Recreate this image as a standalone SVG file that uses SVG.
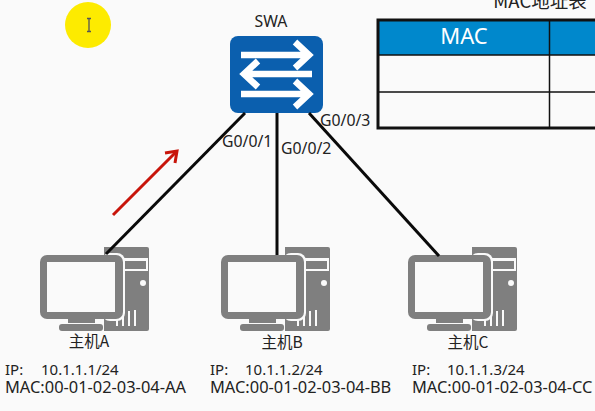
<svg xmlns="http://www.w3.org/2000/svg" width="595" height="411" viewBox="0 0 595 411">
<style>
text{font-family:"Noto Sans","Noto Sans CJK SC",sans-serif;font-size:15px;fill:#222}
.c{font-family:"Noto Sans CJK SC","Noto Sans",sans-serif;text-anchor:middle;font-size:15.5px}
.m{font-size:16.4px}
.p{font-size:15.8px}
.g{fill:#7f7f7f}
.w{fill:#fafafa}
.link{stroke:#0a0a0a;stroke-width:3;fill:none}
.sw{stroke:#fff;stroke-width:6.5;fill:none}
.grid{stroke:#111;fill:none}
</style>
<defs>
<g id="pc">
<path class="g" d="M106 247h41a2 2 0 0 1 2 2v80a2 2 0 0 1-2 2h-43v-84z"/>
<rect class="w" x="123" y="258" width="25" height="13"/>
<rect class="g" x="125" y="261" width="21" height="8"/>
<circle class="w" cx="143" cy="283" r="3"/>
<path class="w" d="M116 320h2v6h-2zM122 315h2v11h-2zM128 311h2v15h-2zM134 310h2v16h-2z"/>
<rect class="w" x="102" y="253" width="23" height="68" rx="8"/>
<rect class="g" x="40" y="255" width="83" height="64" rx="7"/>
<rect class="w" x="47" y="262" width="68" height="50"/>
<rect class="g" x="68" y="318" width="27" height="5"/>
<rect class="g" x="59" y="324" width="44" height="7" rx="3"/>
</g>
</defs>
<rect width="595" height="411" fill="#fafafa"/>
<circle cx="88" cy="25" r="23" fill="#fdeb00"/>
<path d="M87 18.500h4M87 31.500h4M89 19V31" stroke="#555" stroke-width="1.300" fill="none"/>
<g id="SWA">
<text x="271" y="27" class="p" text-anchor="middle">SWA</text>
<rect x="230" y="36" width="93" height="77" rx="8" fill="#0b5fae"/>
<path class="sw" d="M241 55H309M295 42L309 55L295 68"/>
<path class="sw" d="M312 74H244M258 61L244 74L258 87"/>
<path class="sw" d="M241 94H309M295 81L309 94L295 107"/>
</g>
<g id="port-labels">
<text x="222" y="147" class="p">G0/0/1</text>
<text x="281" y="154" class="p">G0/0/2</text>
<text x="320" y="126" class="p">G0/0/3</text>
</g>
<g id="mac-table">
<text class="c" x="540" y="8" style="font-size:18.500px">MAC地址表</text>
<rect x="378" y="20" width="217" height="35" fill="#0088cc"/>
<path class="grid" stroke-width="3" d="M595 20H378V128H595"/>
<path class="grid" stroke-width="1.500" d="M378 55H595M378 92H595M549.500 20V128"/>
<text x="464" y="44" style="font-size:22px;fill:#fff;text-anchor:middle">MAC</text>
</g>
<g id="hostA">
<use href="#pc"/>
<text class="c" x="89" y="347">主机A</text>
<text x="5" y="375">IP:</text><text x="41" y="375">10.1.1.1/24</text>
<text x="5" y="393" class="m">MAC:00-01-02-03-04-AA</text>
</g>
<g id="hostB">
<use href="#pc" x="181"/>
<text class="c" x="282" y="348">主机B</text>
<text x="210" y="375">IP:</text><text x="245" y="375">10.1.1.2/24</text>
<text x="210" y="393" class="m">MAC:00-01-02-03-04-BB</text>
</g>
<g id="hostC">
<use href="#pc" x="368"/>
<text class="c" x="468" y="348">主机C</text>
<text x="412" y="375">IP:</text><text x="447" y="375">10.1.1.3/24</text>
<text x="412" y="393" class="m">MAC:00-01-02-03-04-CC</text>
</g>
<g id="connectors">
<path class="link" d="M245 113L106 254"/>
<path class="link" d="M277 113V255"/>
<path class="link" d="M309 113L439 256"/>
<path d="M113 215L176 152" stroke="#c8140a" stroke-width="3" fill="none"/>
<path d="M165 153L177 151L175 163" stroke="#c8140a" stroke-width="3" fill="none"/>
</g>
</svg>
